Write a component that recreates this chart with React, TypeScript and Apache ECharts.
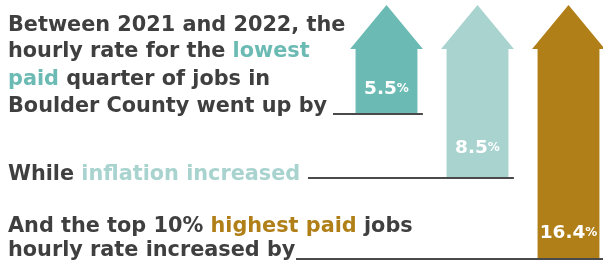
import React, { useEffect, useRef } from "react";
import * as echarts from "echarts";

const categories = ["Lowest paid quarter of jobs", "Inflation", "Top 10% highest paid jobs"];
const increases = [5.5, 8.5, 16.4];
const arrowColors = ["#6bbab3", "#a8d3cf", "#b07f18"];

// text lines: [segment text, style key]
const textLines: [string, string][][] = [
  [["Between 2021 and 2022, the", "d"]],
  [["hourly rate for the ", "d"], ["lowest", "t0"]],
  [["paid", "t0"], [" quarter of jobs in", "d"]],
  [["Boulder County went up by", "d"]],
  [["While ", "d"], ["inflation increased", "t1"]],
  [["And the top 10% ", "d"], ["highest paid", "t2"], [" jobs", "d"]],
  [["hourly rate increased by", "d"]],
];

// layout
const lineBaselines = [31, 57, 85, 112, 180, 232, 256];
const arrowBottoms = [114, 178, 259];
const underlineStarts = [333, 308, 296];
const labelBaselineOffsets = [21, 26, 22];

const DARK = "#3f3f40";
const FONT = "'DejaVu Sans', sans-serif";
const FS = 20.8;
const BAND_PX = 91;

export default function App() {
  const ref = useRef<HTMLDivElement>(null);
  useEffect(() => {
    if (!ref.current) return;
    const chart = echarts.init(ref.current, undefined, { renderer: "svg" });

    const mk = (c: string) => ({ fontFamily: FONT, fontSize: FS, fontWeight: "bold", fill: c, color: c });
    const rich: any = {
      d: mk(DARK),
      t0: mk(arrowColors[0]),
      t1: mk(arrowColors[1]),
      t2: mk(arrowColors[2]),
    };

    const textGraphics = textLines.map((segs, i) => ({
      type: "text",
      left: 8,
      top: lineBaselines[i] - FS * 0.82,
      style: {
        text: segs.map(([t, k]) => `{${k}|${t}}`).join(""),
        rich,
        font: `bold ${FS}px ${FONT}`,
        fill: DARK,
      },
    }));

    const gridLeft = 341;
    const gridWidth = 603 - gridLeft;

    chart.setOption({
      animation: false,
      grid: { left: gridLeft, right: 0, top: 5, bottom: 0 },
      xAxis: { type: "value", min: -0.5, max: -0.5 + gridWidth / BAND_PX, show: false },
      yAxis: { type: "value", min: 0, max: 20, show: false },
      series: [
        {
          type: "custom",
          name: "Hourly rate increase",
          data: increases.map((v, i) => ({ name: categories[i], value: [i, v] })),
          clip: false,
          renderItem: (params: any, api: any) => {
            const i = api.value(0);
            const v = api.value(1);
            const [cx, top] = api.coord([i, 20]);
            const band = api.size([1, 0])[0];
            const headHalf = band * 0.4;
            const shaftHalf = band * 0.34;
            const headH = 44;
            const bottom = arrowBottoms[i];
            const right = cx + headHalf;
            return {
              type: "group",
              children: [
                {
                  type: "polygon",
                  shape: {
                    points: [
                      [cx, top],
                      [cx + headHalf, top + headH],
                      [cx + shaftHalf, top + headH],
                      [cx + shaftHalf, bottom],
                      [cx - shaftHalf, bottom],
                      [cx - shaftHalf, top + headH],
                      [cx - headHalf, top + headH],
                    ],
                  },
                  style: { fill: arrowColors[i] },
                },
                {
                  type: "line",
                  shape: { x1: underlineStarts[i], y1: bottom, x2: right, y2: bottom },
                  style: { stroke: "#4a4a4a", lineWidth: 2.2 },
                },
                {
                  type: "text",
                  x: cx,
                  y: bottom - labelBaselineOffsets[i] + 4,
                  style: {
                    text: `{n|${v}}{p|%}`,
                    align: "center",
                    verticalAlign: "bottom",
                    rich: {
                      n: { fontFamily: FONT, fontSize: 18.5, fontWeight: "bold", fill: "#fff", color: "#fff" },
                      p: { fontFamily: FONT, fontSize: 12, fontWeight: "bold", fill: "#fff", color: "#fff" },
                    },
                  },
                },
              ],
            };
          },
        },
      ],
      graphic: textGraphics,
    });
    return () => chart.dispose();
  }, []);
  return <div ref={ref} style={{ position: "fixed", left: 0, top: 0, width: 603, height: 261 }} />;
}
